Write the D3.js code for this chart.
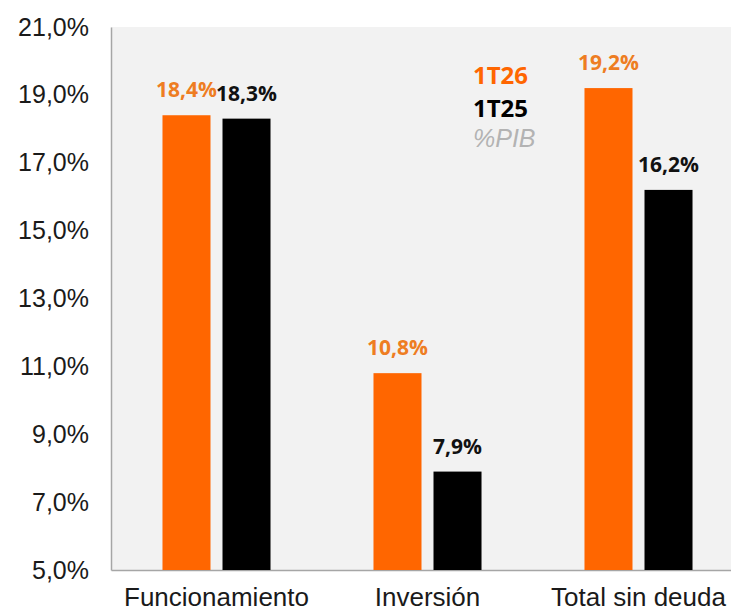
<!DOCTYPE html>
<html>
<head>
<meta charset="utf-8">
<script src="https://cdn.jsdelivr.net/npm/d3@7"></script>
<style>
  html, body { margin: 0; padding: 0; background: #fff; }
  svg { display: block; }
</style>
</head>
<body>
<div id="chart"></div>
<script>
const categories = ["Funcionamiento", "Inversión", "Total sin deuda"];
const seriesNames = ["1T26", "1T25"];
const values1T26 = [18.4, 10.8, 19.2];
const values1T25 = [18.3, 7.9, 16.2];
const yTicks = [5, 7, 9, 11, 13, 15, 17, 19, 21];

const width = 731, height = 613;
const margin = { left: 111, top: 27, bottom: 43 };
const plotRight = 744; // the plot runs past the right edge of the picture

const barColors = { "1T26": "#ff6600", "1T25": "#000000" };
const labelColors = { "1T26": "#ee7d22", "1T25": "#111111" };
const fmt = v => d3.format(".1f")(v).replace(".", ",") + "%";

const svg = d3.select("#chart").append("svg")
  .attr("width", width)
  .attr("height", height);

const x = d3.scaleBand()
  .domain(categories)
  .range([margin.left, plotRight])
  .paddingInner(0.488)
  .paddingOuter(0.244);

const xSub = d3.scaleBand()
  .domain(seriesNames)
  .range([0, x.bandwidth()])
  .paddingInner(0.2);

const y = d3.scaleLinear()
  .domain([5, 21])
  .range([height - margin.bottom, margin.top]);

// plot background
svg.append("rect")
  .attr("x", margin.left)
  .attr("y", margin.top)
  .attr("width", plotRight - margin.left)
  .attr("height", y(5) - margin.top)
  .attr("fill", "#f2f2f2");

// y axis
const yAxis = d3.axisLeft(y)
  .tickValues(yTicks)
  .tickFormat(fmt)
  .tickSize(0)
  .tickPadding(22);

const gy = svg.append("g")
  .attr("transform", `translate(${margin.left},0)`)
  .call(yAxis);
gy.select(".domain").attr("stroke", "#a6a6a6").attr("stroke-width", 1.5);
gy.selectAll("text")
  .attr("fill", "#1a1a1a")
  .style("font", "25px 'Liberation Sans', Arial, sans-serif");

// x axis
const xAxis = d3.axisBottom(x).tickSize(0).tickPadding(18);
const gx = svg.append("g")
  .attr("transform", `translate(0,${y(5)})`)
  .call(xAxis);
gx.select(".domain").attr("stroke", "#a6a6a6").attr("stroke-width", 1.5);
gx.selectAll("text")
  .attr("fill", "#1a1a1a")
  .style("font", "26px 'Liberation Sans', Arial, sans-serif");

// bars
const rows = categories.map((c, i) => ({
  cat: c,
  items: [
    { name: "1T26", value: values1T26[i] },
    { name: "1T25", value: values1T25[i] }
  ]
}));

const groups = svg.append("g").selectAll("g")
  .data(rows)
  .join("g")
  .attr("transform", d => `translate(${x(d.cat)},0)`);

groups.selectAll("rect")
  .data(d => d.items)
  .join("rect")
  .attr("x", d => xSub(d.name))
  .attr("y", d => y(d.value))
  .attr("width", xSub.bandwidth())
  .attr("height", d => y(5) - y(d.value))
  .attr("fill", d => barColors[d.name]);

// value labels
groups.selectAll("text")
  .data(d => d.items)
  .join("text")
  .attr("x", d => xSub(d.name) + xSub.bandwidth() / 2)
  .attr("y", d => y(d.value) - 18)
  .attr("text-anchor", "middle")
  .attr("fill", d => labelColors[d.name])
  .style("font", "bold 21px 'Open Sans', sans-serif")
  .text(d => fmt(d.value));

// legend
const legend = svg.append("g").attr("transform", "translate(473,0)");
legend.append("text")
  .attr("y", 84)
  .attr("fill", "#ff6600")
  .style("font", "bold 24px 'Open Sans', sans-serif")
  .text("1T26");
legend.append("text")
  .attr("y", 117)
  .attr("fill", "#000")
  .style("font", "bold 24px 'Open Sans', sans-serif")
  .text("1T25");
legend.append("text")
  .attr("y", 147)
  .attr("fill", "#b3b3b3")
  .style("font", "italic 25px 'Liberation Sans', Arial, sans-serif")
  .text("%PIB");
</script>
</body>
</html>
